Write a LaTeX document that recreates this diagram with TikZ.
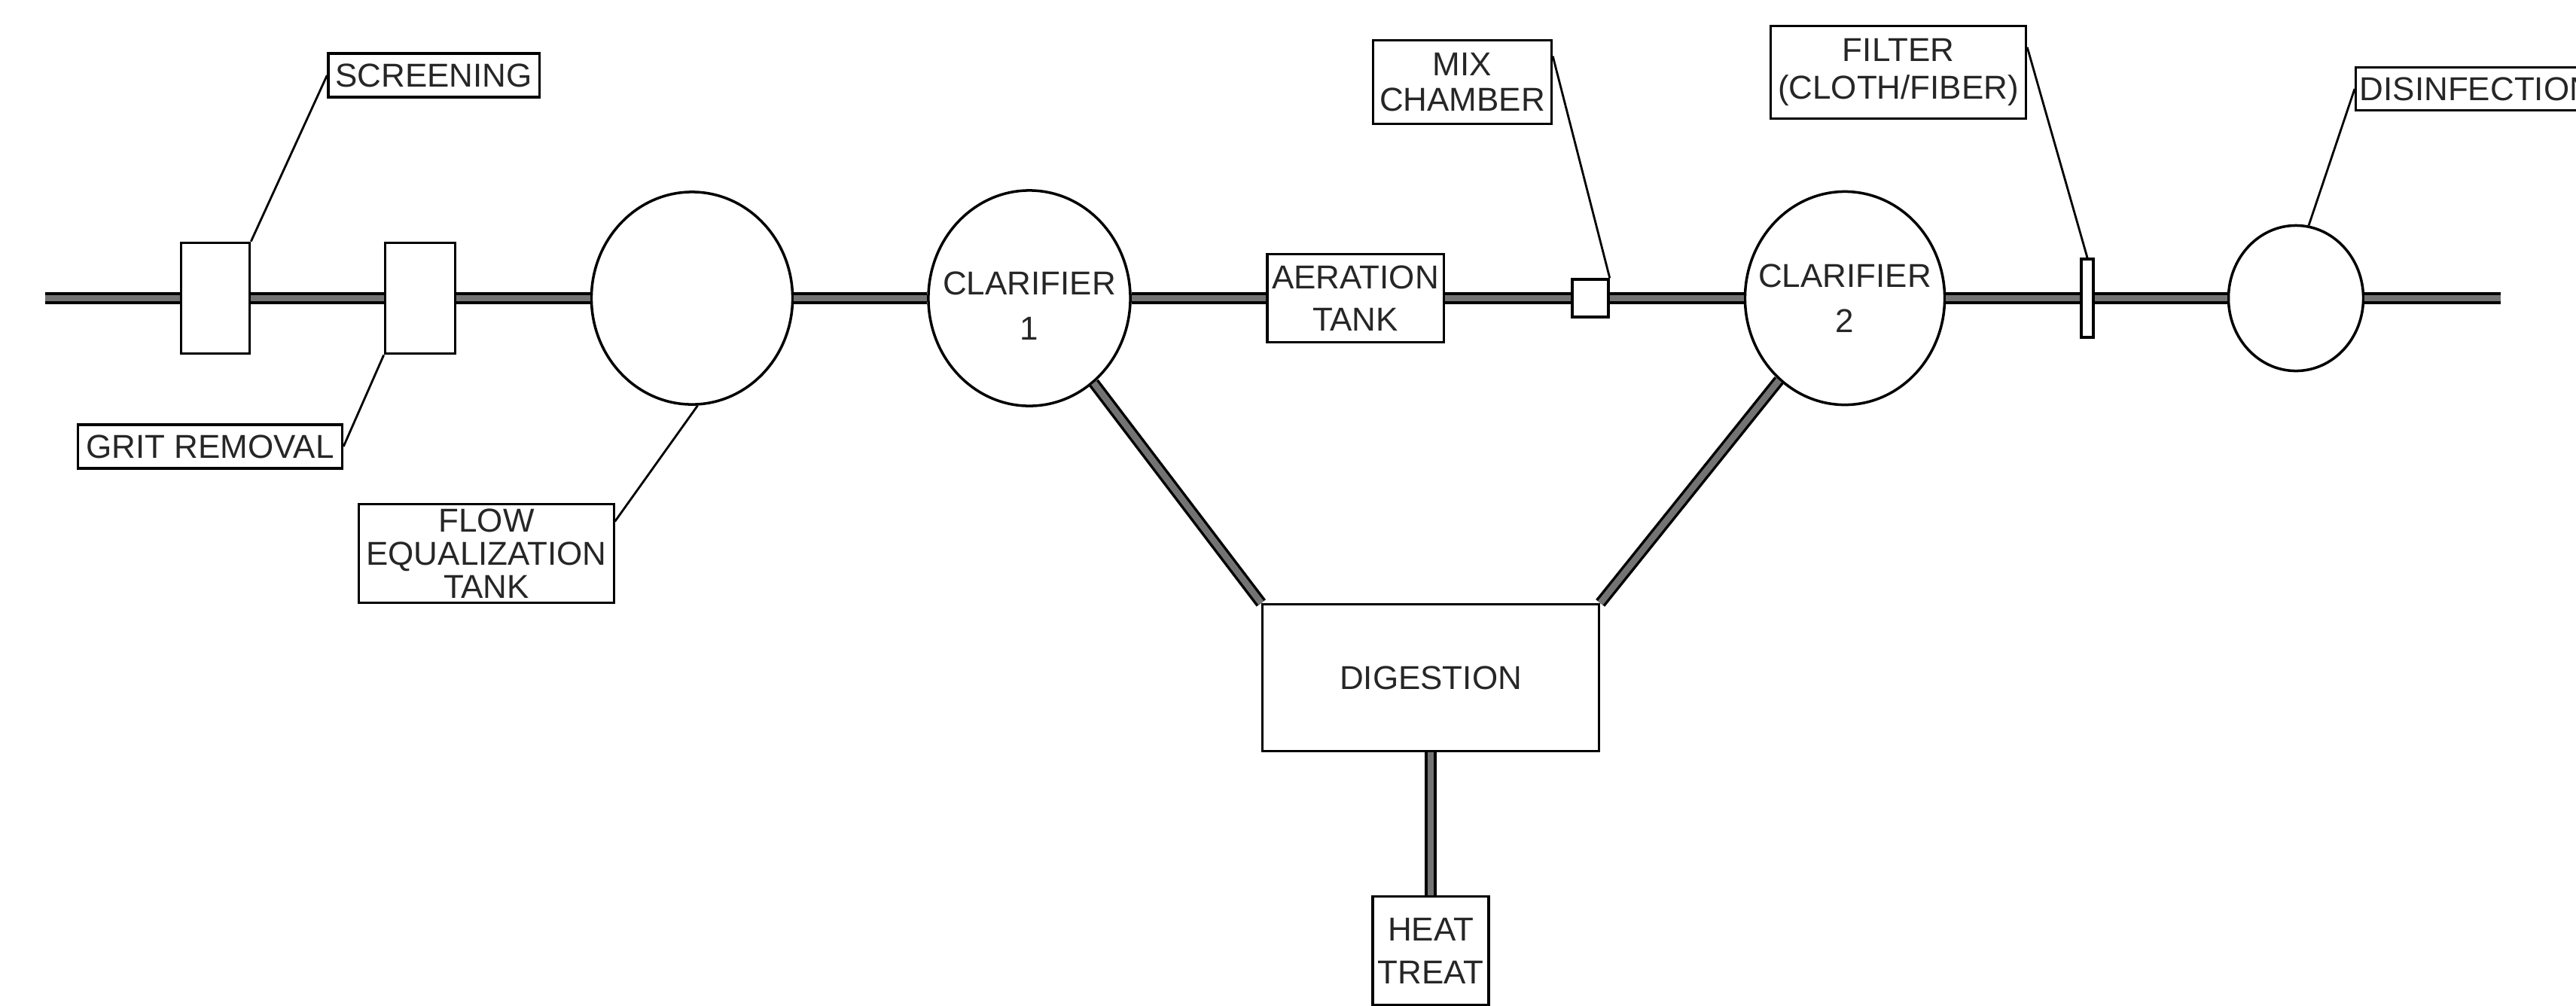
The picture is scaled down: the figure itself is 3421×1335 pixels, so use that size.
\documentclass[tikz,border=0pt]{standalone}
\usepackage{fontspec}
\setmainfont{Liberation Sans}
\usetikzlibrary{positioning,shapes.geometric}

\begin{document}
\begin{tikzpicture}[x=0.01cm, y=-0.01cm,
    pipe/.style={draw=black, line width=1pt, double=black!55, double distance=2.4pt},
    lead/.style={line width=0.8pt},
    unit/.style={draw, fill=white, line width=1pt, inner sep=0pt},
    vessel/.style={unit, ellipse},
    tag/.style={draw, fill=white, line width=0.9pt, inner sep=1.5pt, align=center, text=black!85,
        font=\fontsize{12.5}{16}\selectfont},
    vtext/.style={align=center, text=black!85, font=\fontsize{12.5}{17}\selectfont}]
    \useasboundingbox (0,0) rectangle (3421,1335);

    % main line units
    \coordinate (in) at (60,396);
    \node [unit, minimum width=0.91cm, minimum height=1.47cm] (scr) at (286,396) {};
    \node [unit, minimum width=0.93cm, minimum height=1.47cm] (grit) at (558,396) {};
    \node [vessel, minimum width=2.67cm, minimum height=2.82cm] (feq) at (919,396) {};
    \node [vessel, minimum width=2.68cm, minimum height=2.86cm,
        label={[vtext, yshift=-0.1cm]center:CLARIFIER\\1}] (clar1) at (1367,396) {};
    \node [tag, inner sep=0pt, minimum width=2.34cm, minimum height=1.17cm] (aer) at (1800,396) {AERATION\\TANK};
    \node [unit, minimum width=0.48cm, minimum height=0.5cm] (mix) at (2112,396) {};
    \node [vessel, minimum width=2.65cm, minimum height=2.83cm,
        label={[vtext]center:CLARIFIER\\2}] (clar2) at (2450,396) {};
    \node [unit, minimum width=0.16cm, minimum height=1.04cm] (filt) at (2772,396) {};
    \node [vessel, minimum width=1.79cm, minimum height=1.93cm] (dis) at (3049,396) {};
    \coordinate (out) at (3321,396);

    % solids train
    \node [tag, inner sep=0pt, minimum width=4.47cm, minimum height=1.95cm] (dig) at (1900,900) {DIGESTION};
    \node [tag, inner sep=0pt, minimum width=1.54cm, minimum height=1.44cm, below=1.9cm of dig] (heat) {HEAT\\TREAT};

    % callouts
    \node [tag, minimum width=2.80cm, minimum height=0.58cm] (lscr) at (576,100) {SCREENING};
    \node [tag, minimum width=3.51cm, minimum height=0.58cm] (lgrit) at (279,593) {GRIT REMOVAL};
    \node [tag, inner sep=0pt, minimum width=3.38cm, minimum height=1.31cm,
        font=\fontsize{12.5}{12.5}\selectfont] (lfeq) at (646,735) {FLOW\\EQUALIZATION\\TANK};
    \node [tag, inner sep=0pt, minimum width=2.37cm, minimum height=1.11cm,
        font=\fontsize{12.5}{13.5}\selectfont] (lmix) at (1942,109) {MIX\\CHAMBER};
    \node [tag, inner sep=0pt, minimum width=3.39cm, minimum height=1.23cm,
        font=\fontsize{12.5}{14}\selectfont] (lfilt) at (2521,96) {FILTER\\(CLOTH/FIBER)};
    \node [tag, anchor=west, minimum height=0.57cm] (ldis) at (3127,118) {DISINFECTION};

    \draw [pipe] (in) -- (scr) -- (grit) -- (feq) -- (clar1) -- (aer) -- (mix) -- (clar2) -- (filt) -- (dis) -- (out);
    \draw [pipe] (clar1) -- (dig.north west);
    \draw [pipe] (clar2) -- (dig.north east);
    \draw [pipe] (dig) -- (heat);

    \draw [lead] (scr.north east) -- (lscr.west);
    \draw [lead] (grit.south west) -- (lgrit.east);
    \draw [lead] (feq.-87) -- (lfeq.14);
    \draw [lead] (mix.north east) -- (lmix.16);
    \draw [lead] (filt.north) -- (lfilt.11);
    \draw [lead] (dis.80) -- (ldis.west);
\end{tikzpicture}
\end{document}
